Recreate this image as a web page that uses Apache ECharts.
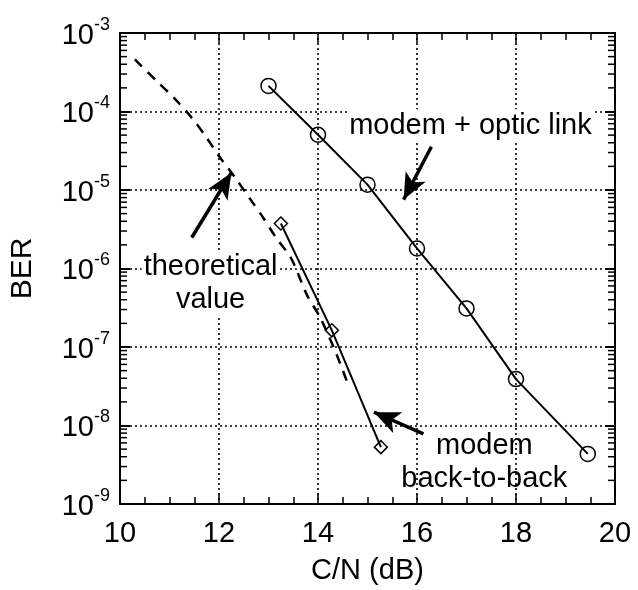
<!DOCTYPE html>
<html>
<head>
<meta charset="utf-8">
<script src="https://cdn.jsdelivr.net/npm/echarts@6/dist/echarts.min.js"></script>
<style>html,body{margin:0;padding:0;background:#fff}#c{width:638px;height:590px}</style>
</head>
<body>
<div id="c"></div>
<script>
// ---- data ----
const theoryX = [10.3, 10.74, 11.09, 11.45, 11.75, 12.01, 12.31, 12.61, 12.89, 13.15, 13.46, 13.78, 14.02, 14.2, 14.38, 14.58];
const theoryY = [4.6e-4, 2.45e-4, 1.49e-4, 8.3e-5, 4.63e-5, 2.65e-5, 1.48e-5, 8.0e-6, 4.47e-6, 2.48e-6, 1.34e-6, 4.55e-7, 2.53e-7, 1.46e-7, 7.9e-8, 3.7e-8];
const opticX = [13, 14, 15, 16, 17, 18, 19.45];
const opticY = [2.12e-4, 5.06e-5, 1.17e-5, 1.8e-6, 3.1e-7, 3.9e-8, 4.35e-9];
const b2bX = [13.25, 14.28, 15.27];
const b2bY = [3.74e-6, 1.63e-7, 5.3e-9];
const xTickValues = [10, 12, 14, 16, 18, 20];
const yDecades = [-9, -8, -7, -6, -5, -4, -3];
const annoText = ['modem + optic link', 'theoretical\nvalue', 'modem\nback-to-back'];
const annoX = [17.08, 11.83, 17.36];
const annoY = [6.6e-5, 6.5e-7, 3.4e-9];
const arrowFrom = [[16.29, 3.56e-5], [11.45, 2.48e-6], [16.13, 7.8e-9]];
const arrowTo = [[15.73, 7.55e-6], [12.25, 1.66e-5], [15.13, 1.48e-8]];

// log minor tick positions (2..9 x 10^k)
const minorY = [];
for (let i = 0; i < yDecades.length - 1; i++) {
  for (let m = 2; m <= 9; m++) minorY.push([10, m * Math.pow(10, yDecades[i])]);
}

const FONT = 'Liberation Sans';
const zip = (a, b) => a.map((v, i) => [v, b[i]]);

const chart = echarts.init(document.getElementById('c'), null, {renderer: 'canvas'});

const xCommon = {
  type: 'value', min: xTickValues[0], max: xTickValues[xTickValues.length - 1], interval: 2,
  axisLine: {show: true, lineStyle: {color: '#000', width: 2}},
  axisTick: {show: true, inside: true, length: 10, lineStyle: {color: '#000', width: 1.5}},
  minorTick: {show: true, splitNumber: 4, length: 7, lineStyle: {color: '#000', width: 1.5}},
};
const yCommon = {
  type: 'log', logBase: 10, min: 1e-9, max: 1e-3, splitNumber: 6,
  axisLine: {show: true, lineStyle: {color: '#000', width: 2}},
  axisTick: {show: true, inside: true, length: 10, lineStyle: {color: '#000', width: 2}},
};

chart.setOption({
  animation: false,
  backgroundColor: '#fff',
  grid: {left: 120, right: 23, top: 33, bottom: 85, containLabel: false},
  xAxis: [
    Object.assign({}, xCommon, {
      position: 'bottom',
      name: 'C/N (dB)', nameLocation: 'middle', nameGap: 52,
      nameTextStyle: {fontFamily: FONT, fontSize: 29, color: '#000'},
      axisLabel: {fontFamily: FONT, fontSize: 29, color: '#000', margin: 15},
      splitLine: {show: true, lineStyle: {color: '#000', type: [2, 3], width: 1.6}},
    }),
    Object.assign({}, xCommon, {
      position: 'top', axisLabel: {show: false}, splitLine: {show: false}
    })
  ],
  yAxis: [
    Object.assign({}, yCommon, {
      position: 'left',
      name: 'BER', nameLocation: 'middle', nameGap: 82,
      nameTextStyle: {fontFamily: FONT, fontSize: 30, color: '#000'},
      axisLabel: {
        margin: 10, color: '#000',
        formatter: v => '{b|10}{s|' + Math.round(Math.log10(v)) + '}',
        rich: {
          b: {fontFamily: FONT, fontSize: 29, color: '#000', lineHeight: 34, verticalAlign: 'bottom'},
          s: {fontFamily: FONT, fontSize: 18, color: '#000', lineHeight: 34, verticalAlign: 'top'}
        }
      },
      splitLine: {show: true, lineStyle: {color: '#000', type: [2, 3], width: 1.6}},
    }),
    Object.assign({}, yCommon, {
      position: 'right', axisLabel: {show: false}, splitLine: {show: false}
    })
  ],
  series: [
    {
      name: 'theoretical', type: 'line', data: zip(theoryX, theoryY),
      showSymbol: false, symbol: 'none', smooth: 0.3,
      lineStyle: {color: '#000', width: 2.5, type: [10, 8]}
    },
    {
      name: 'modem + optic link', type: 'line', data: zip(opticX, opticY),
      symbol: 'circle', symbolSize: 15, showSymbol: true,
      lineStyle: {color: '#000', width: 2},
      itemStyle: {color: 'rgba(0,0,0,0)', borderColor: '#000', borderWidth: 1.5},
      z: 3
    },
    {
      name: 'modem back-to-back', type: 'line', data: zip(b2bX, b2bY),
      symbol: 'diamond', symbolSize: 13, showSymbol: true,
      lineStyle: {color: '#000', width: 2},
      itemStyle: {color: 'rgba(0,0,0,0)', borderColor: '#000', borderWidth: 1.5},
      z: 3
    },
    {
      name: 'minorY', type: 'custom', data: minorY, silent: true, clip: false,
      encode: {x: 0, y: 1},
      renderItem: (params, api) => {
        const v = api.value(1);
        const pL = api.coord([xTickValues[0], v]);
        const pR = api.coord([xTickValues[xTickValues.length - 1], v]);
        const st = {stroke: '#000', lineWidth: 1.5};
        return {type: 'group', children: [
          {type: 'line', shape: {x1: pL[0], y1: pL[1], x2: pL[0] + 7, y2: pL[1]}, style: st},
          {type: 'line', shape: {x1: pR[0] - 7, y1: pR[1], x2: pR[0], y2: pR[1]}, style: st}
        ]};
      }
    },
    {
      name: 'arrows', type: 'line', data: [], symbol: 'none',
      markLine: {
        silent: true, symbol: ['none', 'arrow'], symbolSize: [17, 26],
        label: {show: false},
        lineStyle: {color: '#000', width: 3.5, type: 'solid', opacity: 1},
        data: arrowFrom.map((f, i) => [{coord: f}, {coord: arrowTo[i]}])
      }
    },
    {
      name: 'annotations', type: 'scatter', symbolSize: 0.01,
      itemStyle: {opacity: 1, color: '#000'},
      data: annoX.map((x, i) => ({
        value: [x, annoY[i], annoText[i]],
        label: i === 2 ? {backgroundColor: 'transparent'} : {}
      })),
      label: {
        show: true, position: 'inside', formatter: p => p.value[2],
        fontFamily: FONT, fontSize: 29, color: '#000', lineHeight: 33, align: 'center',
        backgroundColor: '#fff', padding: [0, 2]
      },
      z: 5
    }
  ]
});
</script>
</body>
</html>
